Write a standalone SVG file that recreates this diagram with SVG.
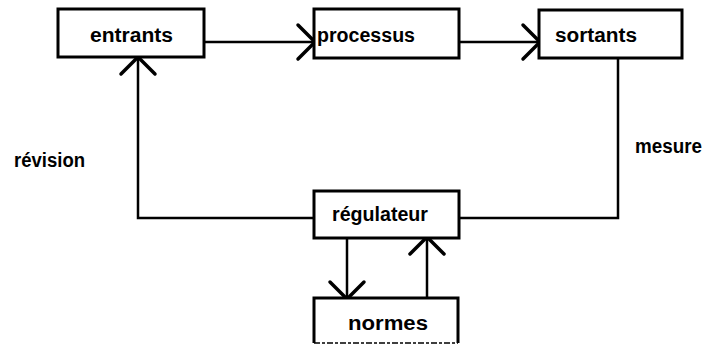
<svg xmlns="http://www.w3.org/2000/svg" width="706" height="345" viewBox="0 0 706 345">
  <style>
    .box { fill: #fff; stroke: #000; stroke-width: 3; }
    .lbl { font-family: "Liberation Sans", Arial, Helvetica, sans-serif; font-weight: bold; font-size: 20px; fill: #000; }
    .wire { fill: none; stroke: #000; stroke-width: 2.5; }
    .arrow { marker-end: url(#open); }
  </style>
  <defs>
    <!-- open V arrowhead, tip at the path end -->
    <marker id="open" markerUnits="userSpaceOnUse" markerWidth="44" markerHeight="44" viewBox="-22 -22 44 44" refX="0" refY="0" orient="auto" overflow="visible">
      <path d="M-16,-17 L1,0 L-16,17" fill="none" stroke="#000" stroke-width="3.5" stroke-linecap="round" stroke-linejoin="miter"/>
    </marker>
  </defs>
  <rect width="706" height="345" fill="#fff"/>

  <g id="connectors">
    <path class="wire arrow" d="M204,42 H314"/>
    <path class="wire arrow" d="M459,42 H539"/>
    <path class="wire" d="M618,58 V218 H459"/>
    <path class="wire arrow" d="M314,218 H138 V58"/>
    <path class="wire arrow" d="M347,238 V298"/>
    <path class="wire arrow" d="M427,298 V238"/>
  </g>

  <g id="entrants">
    <rect class="box" x="58" y="9" width="146" height="48"/>
    <text class="lbl" x="90" y="42" textLength="83" lengthAdjust="spacingAndGlyphs">entrants</text>
  </g>
  <g id="processus">
    <rect class="box" x="314" y="9" width="145" height="49"/>
    <text class="lbl" x="317" y="42" textLength="98" lengthAdjust="spacingAndGlyphs">processus</text>
  </g>
  <g id="sortants">
    <rect class="box" x="539" y="10" width="143" height="48"/>
    <text class="lbl" x="555" y="42" textLength="82" lengthAdjust="spacingAndGlyphs">sortants</text>
  </g>
  <g id="regulateur">
    <rect class="box" x="314" y="191" width="145" height="47"/>
    <text class="lbl" x="332" y="221" textLength="96" lengthAdjust="spacingAndGlyphs">régulateur</text>
  </g>
  <g id="normes">
    <path class="box" d="M314,343 V298 H458 V343"/>
    <path d="M314,343 H458" fill="none" stroke="#000" stroke-width="1.5" stroke-dasharray="6 2 3 2"/>
    <text class="lbl" x="348" y="330" textLength="80" lengthAdjust="spacingAndGlyphs">normes</text>
  </g>

  <g id="edge-labels">
    <text class="lbl" x="14" y="167" textLength="71" lengthAdjust="spacingAndGlyphs">révision</text>
    <text class="lbl" x="635" y="153" textLength="67" lengthAdjust="spacingAndGlyphs">mesure</text>
  </g>
</svg>
